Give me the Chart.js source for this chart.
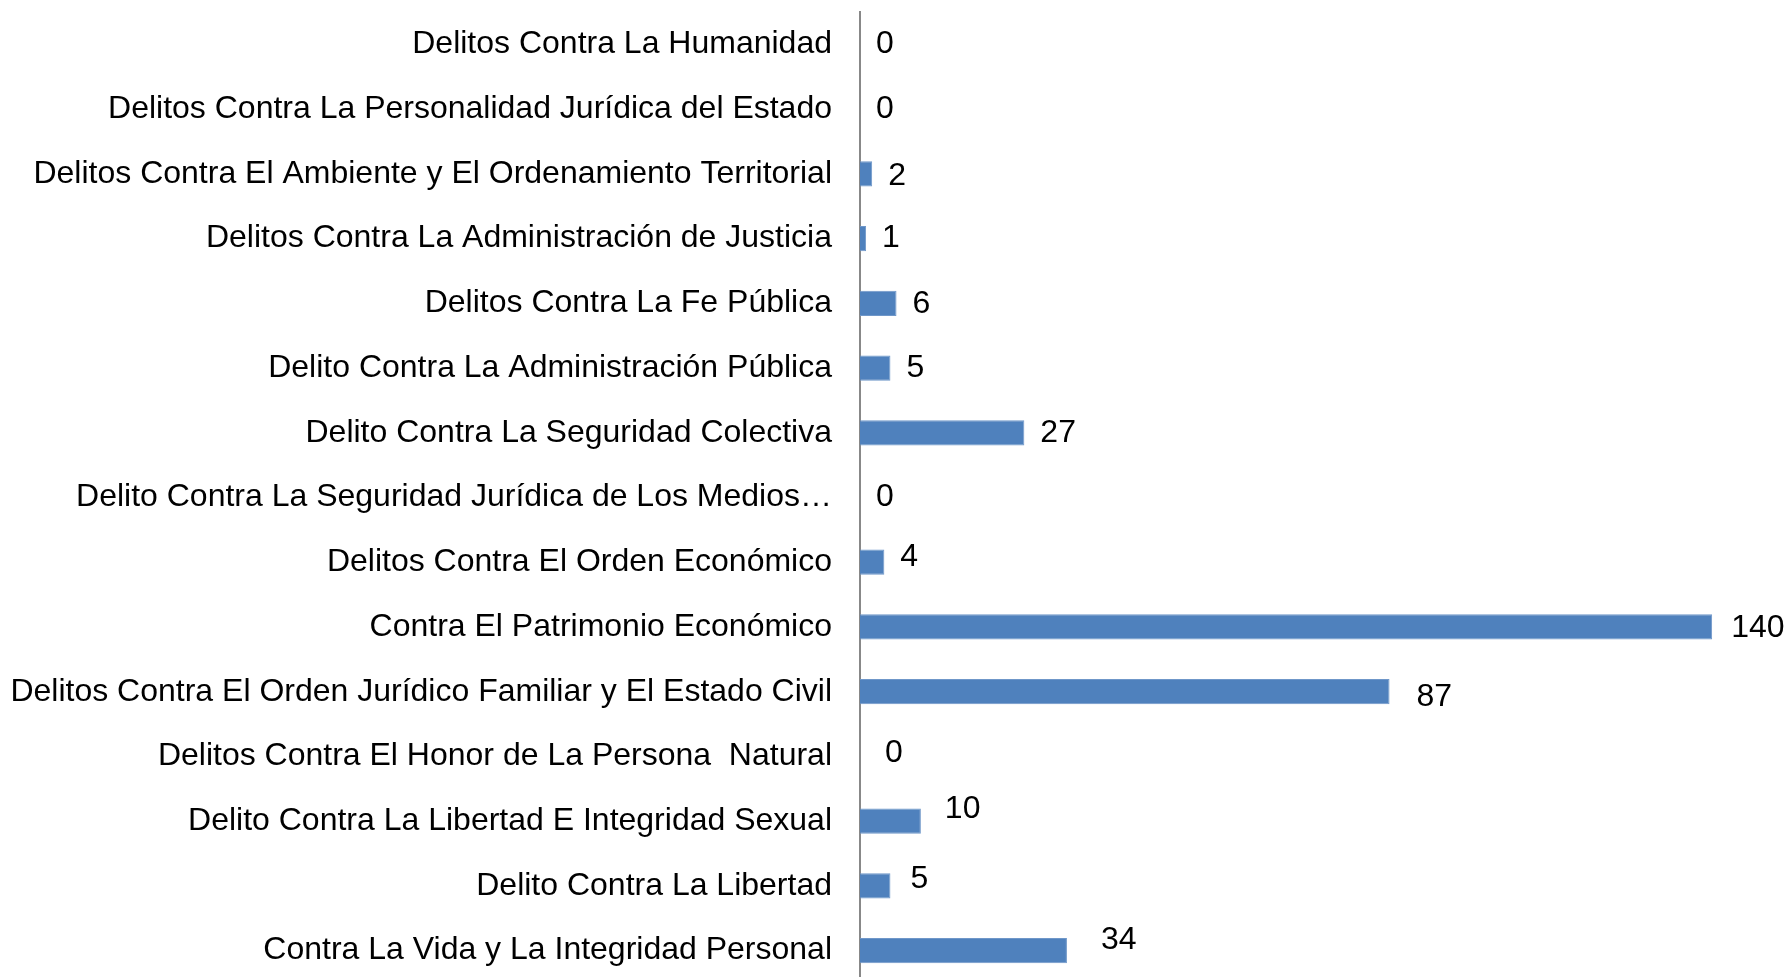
<!DOCTYPE html>
<html>
<head>
<meta charset="utf-8">
<script src="https://cdn.jsdelivr.net/npm/chart.js@4/dist/chart.umd.min.js"></script>
<style>
    html, body { margin: 0; padding: 0; background: #ffffff; overflow: hidden; }
    #wrap { width: 1789px; height: 983px; }
</style>
</head>
<body>
<div id="wrap"><canvas id="graficaDelitos"></canvas></div>
<script>
const categorias = [
    "Delitos Contra La Humanidad",
    "Delitos Contra La Personalidad Jurídica del Estado",
    "Delitos Contra El Ambiente y El Ordenamiento Territorial",
    "Delitos Contra La Administración de Justicia",
    "Delitos Contra La Fe Pública",
    "Delito Contra La Administración Pública",
    "Delito Contra La Seguridad Colectiva",
    "Delito Contra La Seguridad Jurídica de Los Medios…",
    "Delitos Contra El Orden Económico",
    "Contra El Patrimonio Económico",
    "Delitos Contra El Orden Jurídico Familiar y El Estado Civil",
    "Delitos Contra El Honor de La Persona  Natural",
    "Delito Contra La Libertad E Integridad Sexual",
    "Delito Contra La Libertad",
    "Contra La Vida y La Integridad Personal"
];

const casos = [0, 0, 2, 1, 6, 5, 27, 0, 4, 140, 87, 0, 10, 5, 34];

// desplazamientos manuales de las etiquetas (como en el original)
const ajusteEtiquetas = [
    [0, 0], [0, 0], [0, 2], [0, 0], [0, 1], [0, 0], [0, 0], [0, 0],
    [0, -5], [3, 1], [11, 5], [9, -3], [8, -12], [4, -7], [18, -10]
];

const fuente = "'Liberation Sans', Arial, sans-serif";

const etiquetasValor = {
    id: "etiquetasValor",
    afterDatasetsDraw(chart) {
        const ctx = chart.ctx;
        const meta = chart.getDatasetMeta(0);
        ctx.save();
        ctx.font = "32px " + fuente;
        ctx.fillStyle = "#000000";
        ctx.textAlign = "left";
        ctx.textBaseline = "middle";
        meta.data.forEach(function (barra, i) {
            const aj = ajusteEtiquetas[i];
            ctx.fillText(String(casos[i]), barra.x + 16 + aj[0], barra.y + aj[1]);
        });
        ctx.restore();
    }
};

document.addEventListener("DOMContentLoaded", function () {
    const ctx = document.getElementById("graficaDelitos").getContext("2d");

    new Chart(ctx, {
        type: "bar",
        data: {
            labels: categorias,
            datasets: [{
                data: casos,
                backgroundColor: "#4F81BD",
                borderColor: "#6F97C9",
                borderWidth: 1,
                barPercentage: 0.39,
                categoryPercentage: 1
            }]
        },
        options: {
            indexAxis: "y",
            responsive: true,
            maintainAspectRatio: false,
            animation: false,
            layout: { padding: { top: 12, right: 16, bottom: 0, left: 0 } },
            plugins: {
                legend: { display: false },
                tooltip: { enabled: false }
            },
            scales: {
                x: {
                    display: false,
                    min: 0,
                    max: 150
                },
                y: {
                    afterFit: function (scale) {
                        scale.width = 860;
                        scale.paddingTop = 0;
                        scale.paddingBottom = 0;
                    },
                    grid: { display: false, drawTicks: false },
                    border: { display: true, color: "#888888", width: 2 },
                    ticks: {
                        color: "#000000",
                        padding: 28,
                        autoSkip: false,
                        font: { family: fuente, size: 32 }
                    }
                }
            }
        },
        plugins: [etiquetasValor]
    });
});
</script>
</body>
</html>
